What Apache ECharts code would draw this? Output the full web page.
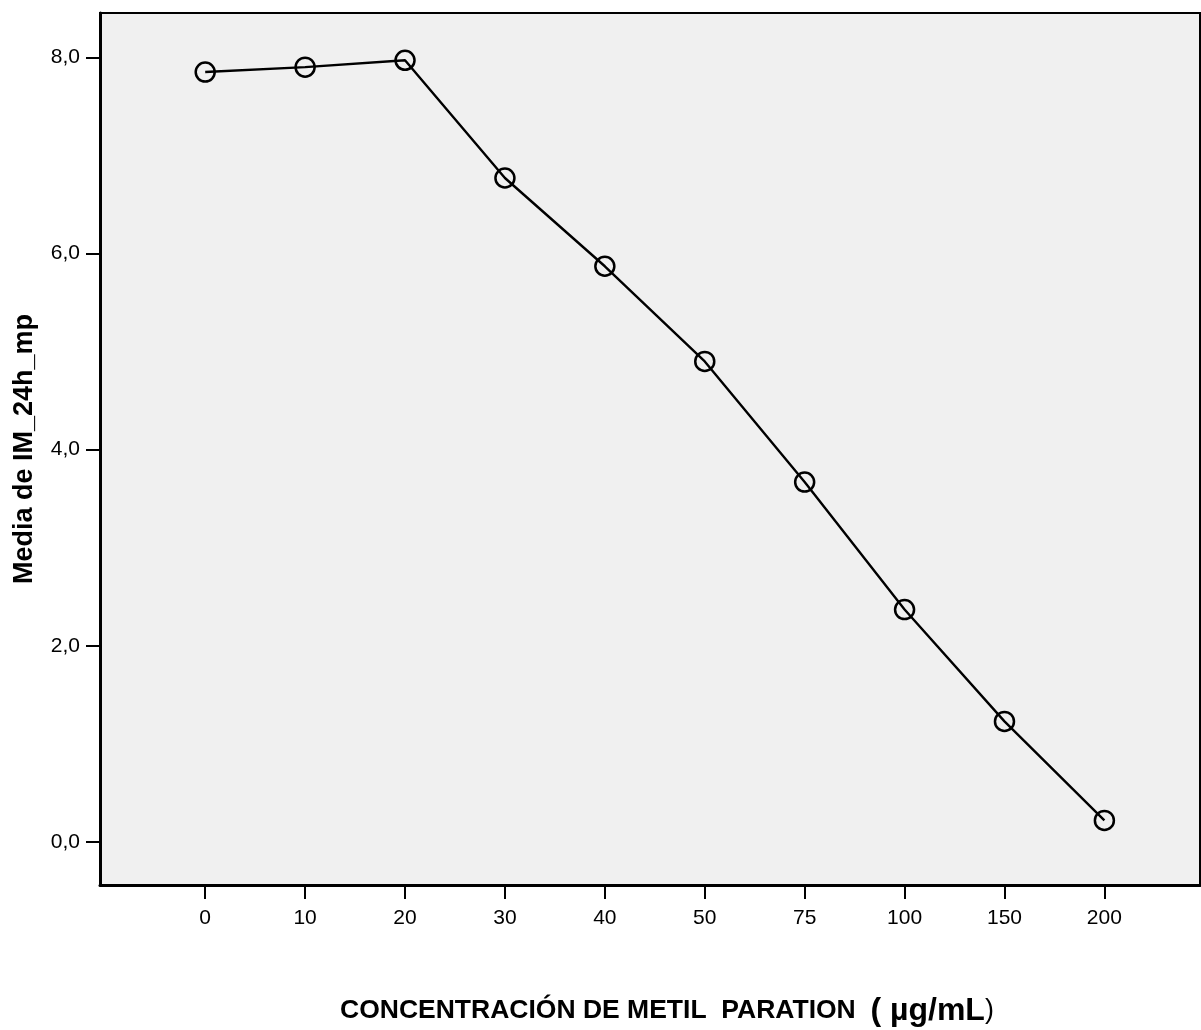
<!DOCTYPE html>
<html>
<head>
<meta charset="utf-8">
<script src="https://cdn.jsdelivr.net/npm/echarts@6/dist/echarts.min.js"></script>
<style>
  html, body { margin: 0; padding: 0; background: #ffffff; }
  #chart { width: 1201px; height: 1030px; }
</style>
</head>
<body>
<div id="chart"></div>
<script>
// Categories on the x axis (concentration, µg/mL)
const categories = ['0', '10', '20', '30', '40', '50', '75', '100', '150', '200'];
// Mean IM_24h_mp for each category
const mediaIM = [7.85, 7.90, 7.97, 6.77, 5.87, 4.90, 3.67, 2.37, 1.23, 0.22];
// Y tick values
const yTicks = [0, 2, 4, 6, 8];
const xTicks = categories.map((c, i) => i);

const FONT = "Arial, 'Liberation Sans', sans-serif";

const chart = echarts.init(document.getElementById('chart'), null, { renderer: 'canvas' });

chart.setOption({
  animation: false,
  backgroundColor: '#ffffff',
  title: {
    text: '{b|CONCENTRACIÓN DE METIL  PARATION  }{u|( µg/mL}{r|)}',
    left: 340,
    top: 995,
    padding: 0,
    textStyle: {
      rich: {
        b: { fontFamily: FONT, fontSize: 26.5, fontWeight: 'bold', color: '#000' },
        u: { fontFamily: FONT, fontSize: 32, fontWeight: 'bold', color: '#000' },
        r: { fontFamily: FONT, fontSize: 27, fontWeight: 'normal', color: '#000' }
      }
    }
  },
  grid: {
    left: 100,
    right: 1,
    top: 13,
    bottom: 145,
    containLabel: false,
    outerBoundsMode: 'none',
    show: true,
    backgroundColor: '#f0f0f0',
    borderColor: '#000',
    borderWidth: 2
  },
  xAxis: {
    type: 'value',
    min: -1.053,
    max: 9.957,
    splitLine: { show: false },
    axisLine: { show: true, onZero: false, lineStyle: { color: '#000', width: 3 } },
    axisTick: {
      show: true,
      customValues: xTicks,
      length: 14,
      lineStyle: { color: '#000', width: 2 }
    },
    axisLabel: {
      customValues: xTicks,
      margin: 23,
      fontFamily: FONT,
      fontSize: 21,
      color: '#000',
      formatter: v => categories[Math.round(v)]
    }
  },
  yAxis: {
    type: 'value',
    min: -0.438,
    max: 8.452,
    name: 'Media de IM_24h_mp',
    nameLocation: 'middle',
    nameGap: 62,
    nameRotate: 90,
    nameTextStyle: { fontFamily: FONT, fontSize: 27, fontWeight: 'bold', color: '#000' },
    splitLine: { show: false },
    axisLine: { show: true, onZero: false, lineStyle: { color: '#000', width: 3 } },
    axisTick: {
      show: true,
      customValues: yTicks,
      length: 14,
      lineStyle: { color: '#000', width: 2 }
    },
    axisLabel: {
      customValues: yTicks,
      margin: 20,
      fontFamily: FONT,
      fontSize: 21,
      color: '#000',
      formatter: v => v.toFixed(1).replace('.', ',')
    }
  },
  series: [{
    type: 'line',
    data: mediaIM.map((v, i) => [i, v]),
    symbol: 'circle',
    symbolSize: 19,
    lineStyle: { color: '#000', width: 2.4 },
    itemStyle: { color: 'rgba(0,0,0,0)', borderColor: '#000', borderWidth: 2.5 },
    emphasis: { disabled: true },
    z: 3
  }]
});
</script>
</body>
</html>
